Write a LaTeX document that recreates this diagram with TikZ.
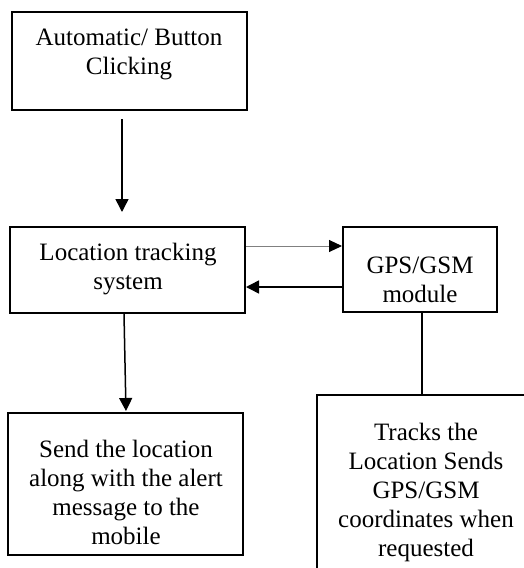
\documentclass[tikz,border=0pt]{standalone}
\usepackage{fontspec}
\setmainfont{Liberation Serif}
\usetikzlibrary{arrows.meta}
\begin{document}
\begin{tikzpicture}[x=0.5pt,y=-0.5pt,
  box/.style={draw=black, line width=1pt, rectangle, inner sep=0pt, fill=white},
  txt/.style={align=center, inner sep=0pt, font=\fontsize{12.5pt}{14.5pt}\selectfont},
  arr/.style={draw=black, line width=0.75pt, -{Triangle[length=6.5pt,width=6.5pt]}},
  thinarr/.style={draw=black!50, line width=0.5pt, -{Triangle[length=6.5pt,width=6pt,color=black]}},
  link/.style={draw=black, line width=0.6pt}]
  \useasboundingbox (0,0) rectangle (524,568);
  \clip (0,0) rectangle (524,568);
  \fill[white] (0,0) rectangle (524,568);

  % boxes
  \node[box, minimum width=117.5pt, minimum height=49pt] (trigger) at (129.5,61) {};
  \node[box, minimum width=117.5pt, minimum height=43pt] (tracker) at (127.5,270) {};
  \node[box, minimum width=77pt, minimum height=42.5pt] (gps) at (420,269.5) {};
  \node[box, minimum width=117.5pt, minimum height=71pt] (alert) at (125.5,484) {};
  \node[box, minimum width=109pt, minimum height=102.5pt] (coords) at (426,497.5) {};

  % box texts
  \node[txt] (triggertext) at (129,53.7) {\strut Automatic/ Button\\\strut Clicking};
  \node[txt] (trackertext) at (128,268.7) {\strut Location tracking\\\strut system};
  \node[txt] (gpstext) at (420,281.7) {\strut GPS/GSM\\\strut module};
  \node[txt] (alerttext) at (126,494.7) {\strut Send the location\\\strut along with the alert\\\strut message to the\\\strut mobile};
  \node[txt] (coordstext) at (426,492.2) {\strut Tracks the\\\strut Location Sends\\\strut GPS/GSM\\\strut coordinates when\\\strut requested};

  % connectors
  \draw[arr, shorten <=4pt, shorten >=7pt] ([xshift=-3.75pt]trigger.south) -- ([xshift=-2.75pt]tracker.north);
  \draw[arr, shorten >=0.5pt] ([xshift=-1.75pt]tracker.south) -- ([xshift=0.25pt]alert.north);
  \draw[thinarr] ([yshift=12pt]tracker.east) -- ([yshift=11.75pt]gps.west);
  \draw[arr] ([yshift=-8.75pt]gps.west) -- ([yshift=-8.5pt]tracker.east);
  \draw[link] ([xshift=1pt]gps.south) -- ([xshift=-2pt]coords.north);
\end{tikzpicture}
\end{document}
